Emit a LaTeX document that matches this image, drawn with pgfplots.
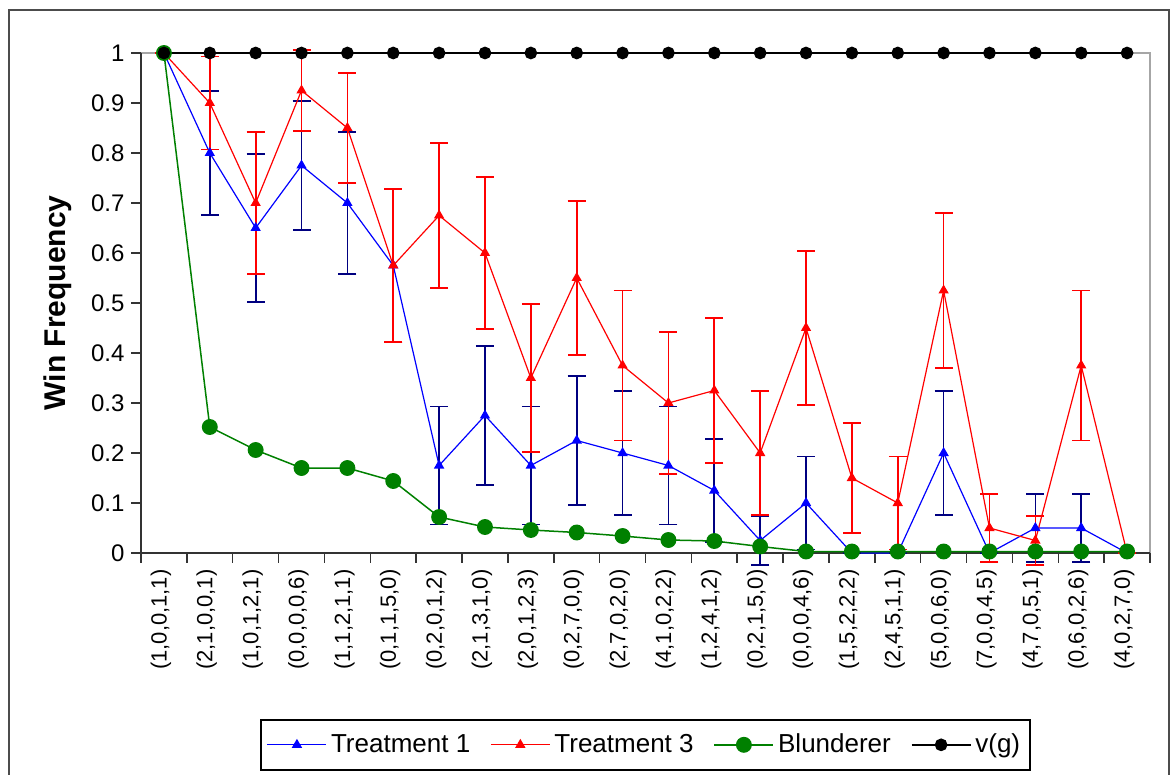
\documentclass[border=0pt]{standalone}
\usepackage{pgfplots}
\usepackage{pgfplotstable}
\pgfplotsset{compat=1.18}
\usepackage{fontspec}
\setmainfont{Liberation Sans}
\definecolor{tblue}{RGB}{0,0,255}
\definecolor{tred}{RGB}{255,0,0}
\definecolor{tgreen}{RGB}{0,128,0}
\definecolor{tnavy}{RGB}{0,0,128}

\pgfplotstableread{
x y e
0 1 0
1 0.8 0.124
2 0.65 0.1478
3 0.775 0.1294
4 0.7 0.142
5 0.575 0.1532
6 0.175 0.1178
7 0.275 0.1384
8 0.175 0.1178
9 0.225 0.1294
10 0.2 0.124
11 0.175 0.1178
12 0.125 0.1025
13 0.025 0.0484
14 0.1 0.093
15 0 0
16 0 0
17 0.2 0.124
18 0 0
19 0.05 0.0675
20 0.05 0.0675
21 0 0
}\tone

\pgfplotstableread{
x y e
0 1 0
1 0.9 0.093
2 0.7 0.142
3 0.925 0.0816
4 0.85 0.1107
5 0.575 0.1532
6 0.675 0.1452
7 0.6 0.1518
8 0.35 0.1478
9 0.55 0.1542
10 0.375 0.15
11 0.3 0.142
12 0.325 0.1452
13 0.2 0.124
14 0.45 0.1542
15 0.15 0.1107
16 0.1 0.093
17 0.525 0.1548
18 0.05 0.0675
19 0.025 0.0484
20 0.375 0.15
21 0 0
}\tthree

\pgfplotstableread{
x y
0 1
1 0.252
2 0.206
3 0.17
4 0.17
5 0.144
6 0.072
7 0.052
8 0.046
9 0.041
10 0.034
11 0.026
12 0.024
13 0.013
14 0.003
15 0.003
16 0.003
17 0.003
18 0.003
19 0.003
20 0.003
21 0.003
}\blund

\pgfplotstableread{
x y
0 1
1 1
2 1
3 1
4 1
5 1
6 1
7 1
8 1
9 1
10 1
11 1
12 1
13 1
14 1
15 1
16 1
17 1
18 1
19 1
20 1
21 1
}\vg

\begin{document}
\begin{tikzpicture}
\begin{axis}[
  scale only axis, width=504.5pt, height=250pt,
  xmin=-0.5, xmax=21.5, ymin=0, ymax=1,
  clip=false,
  axis line style={draw=none},
  xtick={-0.5,0.5,...,21.5},
  x tick label as interval,
  xticklabels={{(1,0,0,1,1)},{(2,1,0,0,1)},{(1,0,1,2,1)},{(0,0,0,0,6)},{(1,1,2,1,1)},{(0,1,1,5,0)},{(0,2,0,1,2)},{(2,1,3,1,0)},{(2,0,1,2,3)},{(0,2,7,0,0)},{(2,7,0,2,0)},{(4,1,0,2,2)},{(1,2,4,1,2)},{(0,2,1,5,0)},{(0,0,0,4,6)},{(1,5,2,2,2)},{(2,4,5,1,1)},{(5,0,0,6,0)},{(7,0,0,4,5)},{(4,7,0,5,1)},{(0,6,0,2,6)},{(4,0,2,7,0)}},
  xticklabel style={rotate=90, anchor=east, font=\fontsize{11}{13}\selectfont, yshift=1.5pt},
  ytick={0,0.1,0.2,0.3,0.4,0.5,0.6,0.7,0.8,0.9,1},
  yticklabels={0,0.1,0.2,0.3,0.4,0.5,0.6,0.7,0.8,0.9,1},
  yticklabel style={font=\fontsize{12}{14}\selectfont},
  tick align=outside, major tick length=4.75pt,
  xtick pos=bottom, ytick pos=left,
  tick style={black!80, line width=0.75pt},
  ylabel={Win Frequency},
  ylabel style={font=\bfseries\fontsize{15}{17}\selectfont, at={(axis description cs:-0.0823,0.5)}, anchor=center},
  legend columns=4,
  legend style={at={(0.5,-0.332)}, anchor=north, draw=black, line width=0.9pt, font=\fontsize{13}{15}\selectfont,
    inner ysep=5pt, inner xsep=3pt,
    /tikz/every even column/.append style={column sep=8pt}},
  legend image code/.code={\draw[mark repeat=2,mark phase=2] plot coordinates {(0pt,0pt) (14.75pt,0pt) (29.5pt,0pt)};},
]
\coordinate (SW) at (rel axis cs:0,0);
\coordinate (NE) at (rel axis cs:1,1);
\draw[black!35, line width=0.7pt] (rel axis cs:0,1) -- (rel axis cs:1,1) -- (rel axis cs:1,0);
\draw[black!80, line width=0.75pt] (rel axis cs:0,1) -- (rel axis cs:0,0) -- (rel axis cs:1,0);

\addplot[tblue, line width=0.6pt, mark=triangle*, mark size=2.4pt, mark options={solid, fill=tblue},
  error bars/.cd, y dir=both, y explicit,
  error bar style={tnavy, line width=0.85pt},
  error mark options={rotate=90, tnavy, line width=0.9pt, mark size=4.5pt}]
  table[x=x, y=y, y error=e] {\tone};
\addlegendentry{Treatment 1}

\addplot[tred, line width=0.6pt, mark=triangle*, mark size=2.4pt, mark options={solid, fill=tred},
  error bars/.cd, y dir=both, y explicit,
  error bar style={tred, line width=0.85pt},
  error mark options={rotate=90, tred, line width=0.9pt, mark size=4.5pt}]
  table[x=x, y=y, y error=e] {\tthree};
\addlegendentry{Treatment 3}

\addplot[tgreen, line width=0.75pt, mark=*, mark size=3.6pt, mark options={solid, fill=tgreen, draw=tgreen}]
  table[x=x, y=y] {\blund};
\addlegendentry{Blunderer}

\addplot[black, line width=0.75pt, mark=*, mark size=2.8pt, mark options={solid, fill=black}]
  table[x=x, y=y] {\vg};
\addlegendentry{v(g)}
\end{axis}
\draw[black!70, line width=0.9pt] ([xshift=-66pt,yshift=-116pt]SW) rectangle ([xshift=9.5pt,yshift=21.5pt]NE);
\pgfresetboundingbox
\path[use as bounding box] ([xshift=-70.5pt,yshift=-111pt]SW) rectangle ([xshift=10.5pt,yshift=26.5pt]NE);
\end{tikzpicture}
\end{document}
